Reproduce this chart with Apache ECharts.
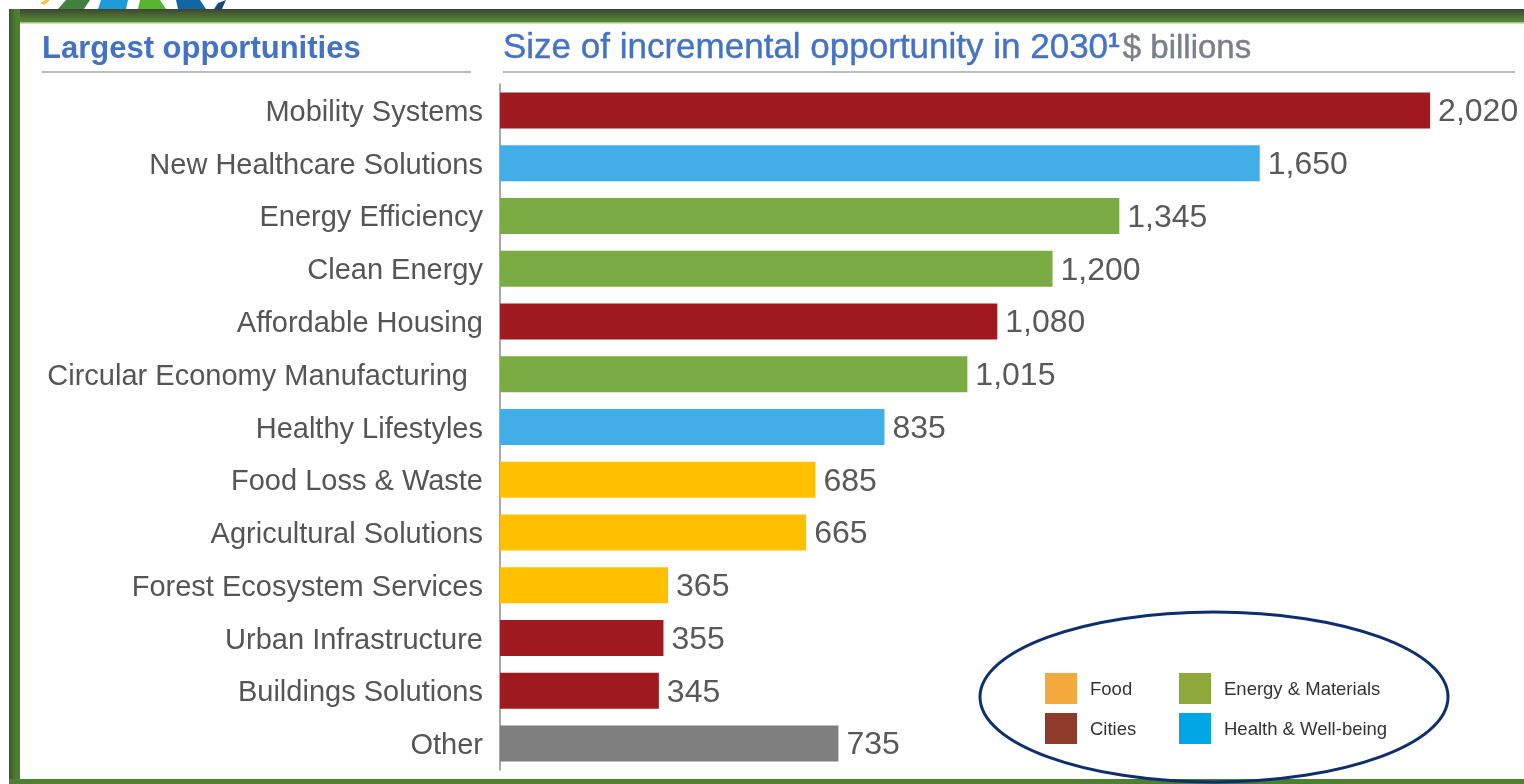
<!DOCTYPE html>
<html>
<head>
<meta charset="utf-8">
<title>Largest opportunities</title>
<script src="https://cdn.jsdelivr.net/npm/echarts@6/dist/echarts.min.js"></script>
<style>
  html, body { margin: 0; padding: 0; background: #ffffff; }
  #chart { width: 1524px; height: 784px; }
</style>
</head>
<body>
<div id="chart"></div>
<script>
// Incremental opportunity in 2030, $ billions
const categories = [
  'Mobility Systems',
  'New Healthcare Solutions',
  'Energy Efficiency',
  'Clean Energy',
  'Affordable Housing',
  'Circular Economy Manufacturing',
  'Healthy Lifestyles',
  'Food Loss & Waste',
  'Agricultural Solutions',
  'Forest Ecosystem Services',
  'Urban Infrastructure',
  'Buildings Solutions',
  'Other'
];
const values = [2020, 1650, 1345, 1200, 1080, 1015, 835, 685, 665, 365, 355, 345, 735];
const groups = [
  'Cities', 'Health', 'Energy', 'Energy', 'Cities', 'Energy', 'Health',
  'Food', 'Food', 'Food', 'Cities', 'Cities', 'Other'
];
const legendItems = ['Food', 'Cities', 'Energy & Materials', 'Health & Well-being'];

const barColors = {
  Food: '#ffc000',
  Cities: '#9e1a1f',
  Energy: '#7bab43',
  Health: '#42aee8',
  Other: '#7f7f7f'
};
const legendColors = {
  'Food': '#f4a93e',
  'Cities': '#8f3b2b',
  'Energy & Materials': '#8ea83c',
  'Health & Well-being': '#00a7e4'
};

const chart = echarts.init(document.getElementById('chart'), null, { renderer: 'canvas' });

const fontFamily = '"Liberation Sans", Arial, sans-serif';

// legend in two columns inside the ellipse
const legendGraphics = [];
const legendCols = [1045, 1179];
const legendRows = [673, 713];
legendItems.forEach((name, i) => {
  const col = i < 2 ? 0 : 1;
  const row = i % 2;
  const x = legendCols[col];
  const y = legendRows[row];
  legendGraphics.push({
    type: 'rect',
    shape: { x: x, y: y, width: 32, height: 31 },
    style: { fill: legendColors[name] }
  });
  legendGraphics.push({
    type: 'text',
    x: x + 45,
    y: y + 17,
    style: {
      text: name,
      fill: '#333333',
      font: '18.5px ' + fontFamily,
      textVerticalAlign: 'middle'
    }
  });
});

const option = {
  backgroundColor: '#ffffff',
  animation: false,
  title: [
    {
      text: 'Largest opportunities',
      left: 37,
      top: 29,
      textStyle: { color: '#4472c4', fontSize: 31, fontWeight: 'bold', fontFamily: fontFamily }
    },
    {
      text: 'Size of incremental opportunity in 2030{sup|1}{unit|$ billions}',
      left: 498,
      top: 26,
      textStyle: {
        color: '#4472c4', fontSize: 35, fontWeight: 'normal', fontFamily: fontFamily,
        textBorderColor: '#4472c4', textBorderWidth: 0.4,
        rich: {
          sup: { color: '#4472c4', fontSize: 21, fontWeight: 'bold', verticalAlign: 'top', padding: [0, 0, 14, 0], fontFamily: fontFamily },
          unit: { color: '#7f7f7f', fontSize: 33, fontWeight: 'normal', padding: [0, 0, 0, 3], fontFamily: fontFamily }
        }
      }
    }
  ],
  grid: { left: 500, top: 84, width: 1013, height: 686, containLabel: false },
  xAxis: {
    type: 'value',
    min: 0,
    max: 2200,
    show: false
  },
  yAxis: {
    type: 'category',
    inverse: true,
    data: categories,
    axisLine: { show: true, lineStyle: { color: '#8c8c8c', width: 1.5 } },
    axisTick: { show: false },
    axisLabel: {
      margin: 17,
      formatter: v => (v === 'Circular Economy Manufacturing' ? '{wide|' : '{cat|') + v + '}',
      rich: {
        cat: { color: '#555555', fontSize: 29, padding: [5, 0, 0, 0], fontFamily: fontFamily },
        wide: { color: '#555555', fontSize: 29, padding: [5, 15, 0, 0], fontFamily: fontFamily }
      }
    }
  },
  series: [
    {
      type: 'bar',
      barWidth: 36,
      data: values.map((v, i) => ({
        value: v,
        itemStyle: { color: barColors[groups[i]] }
      })),
      label: {
        show: true,
        position: 'right',
        distance: 8,
        offset: [0, 2],
        color: '#595959',
        fontSize: 32,
        fontFamily: fontFamily,
        formatter: p => p.value.toLocaleString('en-US')
      }
    }
  ],
  graphic: [
    // logo fragments peeking above the frame
    { type: 'polygon', shape: { points: [[58, 9], [66, 0], [90, 0], [84, 9]] }, style: { fill: '#3f8240' } },
    { type: 'polygon', shape: { points: [[98, 9], [101, 0], [128, 0], [126, 9]] }, style: { fill: '#1f9bd8' } },
    { type: 'polygon', shape: { points: [[138, 9], [140, 0], [160, 0], [166, 9]] }, style: { fill: '#58b530' } },
    { type: 'polygon', shape: { points: [[178, 9], [176, 0], [200, 0], [206, 9]] }, style: { fill: '#0f67a6' } },
    { type: 'polygon', shape: { points: [[214, 9], [218, 3], [226, 0], [222, 9]] }, style: { fill: '#18487a' } },
    { type: 'polygon', shape: { points: [[40, 3], [46, 0], [50, 0], [44, 5]] }, style: { fill: '#f2c23a' } },
    // frame
    {
      type: 'rect',
      shape: { x: 9, y: 9, width: 1515, height: 14 },
      style: {
        fill: new echarts.graphic.LinearGradient(0, 0, 0, 1, [
          { offset: 0, color: '#3b4535' },
          { offset: 0.6, color: '#4d7631' },
          { offset: 1, color: '#5a8a38' }
        ])
      }
    },
    { type: 'rect', shape: { x: 20, y: 22, width: 1504, height: 1.5 }, style: { fill: '#9cc47c' } },
    {
      type: 'rect',
      shape: { x: 9, y: 9, width: 11, height: 775 },
      style: {
        fill: new echarts.graphic.LinearGradient(0, 0, 1, 0, [
          { offset: 0, color: '#3d5232' },
          { offset: 0.5, color: '#4a7a2e' },
          { offset: 1, color: '#4f7f31' }
        ])
      }
    },
    { type: 'rect', shape: { x: 9, y: 779, width: 1515, height: 5 }, style: { fill: '#4f7f31' } },
    // rules under the headings
    { type: 'line', shape: { x1: 42, y1: 72, x2: 471, y2: 72 }, style: { stroke: '#a6a6a6', lineWidth: 1.5 } },
    { type: 'line', shape: { x1: 503, y1: 72, x2: 1515, y2: 72 }, style: { stroke: '#a6a6a6', lineWidth: 1.5 } },
    // legend
    {
      type: 'ellipse',
      shape: { cx: 1214, cy: 697, rx: 234, ry: 85 },
      style: { fill: 'transparent', stroke: '#0d2f6e', lineWidth: 3 }
    }
  ].concat(legendGraphics)
};

chart.setOption(option);
</script>
</body>
</html>
